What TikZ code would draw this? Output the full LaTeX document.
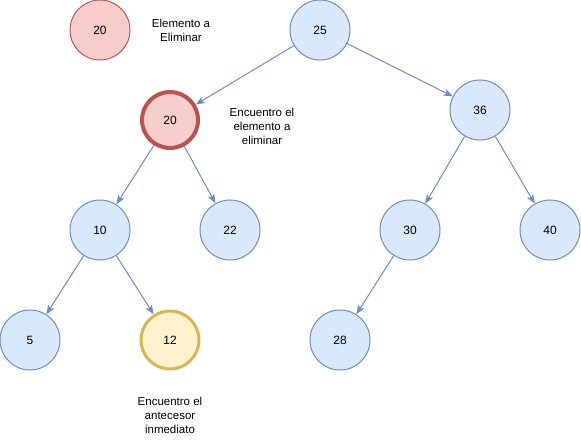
\documentclass[tikz,border=0pt]{standalone}
\usepackage{fontspec}
\setmainfont{Liberation Sans}
\usepackage{tikz}
\usetikzlibrary{arrows.meta}
\definecolor{bluefill}{HTML}{DAE8FC}
\definecolor{bluedraw}{HTML}{6C8EBF}
\definecolor{redfill}{HTML}{F8CECC}
\definecolor{reddraw}{HTML}{B85450}
\definecolor{yellowfill}{HTML}{FFF2CC}
\definecolor{yellowdraw}{HTML}{D6B656}
\tikzset{keynode/.style={draw=bluedraw, fill=bluefill, circle, line width=1pt,
minimum size=60pt, inner sep=0pt, font=\fontsize{12}{14}\selectfont},
delnode/.style={keynode, draw=reddraw, fill=redfill},
prednode/.style={keynode, draw=yellowdraw, fill=yellowfill, line width=3pt, minimum size=58pt},
note/.style={align=center, font=\fontsize{11.5}{14}\selectfont},
arrow/.style={draw=bluedraw, line width=1pt, -{Stealth[length=9pt, width=7pt, inset=2pt]}}}

\begin{document}
\begin{tikzpicture}[x=1pt, y=-1pt]
    \useasboundingbox (0,0) rectangle (581,441);

    % Legend
    \node[delnode] (legend) at (100,30) {20};
    \node[note] (legendtext) at (181,30) {Elemento a\\Eliminar};

    % Tree nodes
    \node[keynode] (n25) at (320,30) {25};
    \node[delnode, line width=4pt, minimum size=56pt] (n20) at (170,120) {20};
    \node[keynode] (n36) at (480,110) {36};
    \node[keynode] (n10) at (100,230) {10};
    \node[keynode] (n22) at (230,230) {22};
    \node[keynode] (n30) at (410,230) {30};
    \node[keynode] (n40) at (550,230) {40};
    \node[keynode] (n5) at (30,340) {5};
    \node[prednode] (n12) at (170,340) {12};
    \node[keynode] (n28) at (340,340) {28};

    % Notes
    \node[note] (found) at (262,126) {Encuentro el\\elemento a\\eliminar};
    \node[note] (pred) at (170,415) {Encuentro el\\antecesor\\inmediato};

    % Edges
    \draw[arrow] (n25) -- (n20);
    \draw[arrow] (n25) -- (n36);
    \draw[arrow] (n20) -- (n10);
    \draw[arrow] (n20) -- (n22);
    \draw[arrow] (n36) -- (n30);
    \draw[arrow] (n36) -- (n40);
    \draw[arrow] (n10) -- (n5);
    \draw[arrow] (n10) -- (n12);
    \draw[arrow] (n30) -- (n28);
\end{tikzpicture}
\end{document}
